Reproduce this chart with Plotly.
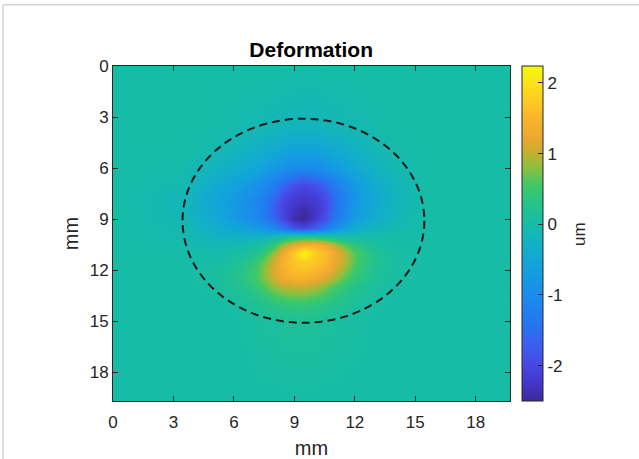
import plotly.graph_objects as go

# ---- data (deformation in um on a mm grid) ----
X_MM = [0, 3.5, 5, 6, 7, 7.5, 8, 8.5, 9, 9.5, 10, 10.5, 11, 11.5, 12, 13, 14, 15.5, 19.7]
Y_MM = [0, 3.5, 5, 6, 7, 7.5, 8, 8.5, 9, 9.5, 10, 10.5, 11, 11.5, 12, 12.5, 13, 14, 15, 19.7]

DEFORMATION_UM = [
    [0]*19,
    [0, 0, 0, -0.05, -0.1, -0.1, -0.15, -0.15, -0.2, -0.2, -0.2, -0.15, -0.15, -0.1, -0.1, -0.05, 0, 0, 0],
    [0, 0, -0.1, -0.2, -0.3, -0.4, -0.45, -0.55, -0.6, -0.6, -0.6, -0.55, -0.45, -0.4, -0.3, -0.15, -0.05, 0, 0],
    [0, -0.05, -0.25, -0.35, -0.5, -0.6, -0.75, -0.9, -1.0, -1.05, -1.0, -0.9, -0.75, -0.6, -0.45, -0.25, -0.1, 0, 0],
    [0, -0.1, -0.4, -0.6, -0.85, -1.05, -1.3, -1.6, -1.9, -2.0, -1.9, -1.65, -1.3, -1.0, -0.75, -0.4, -0.2, 0, 0],
    [0, -0.15, -0.5, -0.7, -0.95, -1.15, -1.5, -1.95, -2.1, -2.15, -2.1, -1.9, -1.45, -1.1, -0.8, -0.45, -0.2, 0, 0],
    [0, -0.15, -0.5, -0.75, -1.05, -1.3, -1.65, -2.05, -2.2, -2.25, -2.2, -2.0, -1.5, -1.15, -0.8, -0.45, -0.2, 0, 0],
    [0, -0.15, -0.5, -0.75, -1.05, -1.35, -1.75, -2.1, -2.3, -2.45, -2.25, -2.0, -1.45, -1.1, -0.75, -0.4, -0.2, 0, 0],
    [0, -0.15, -0.45, -0.7, -1.0, -1.25, -1.6, -2.05, -2.4, -2.5, -2.2, -1.9, -1.35, -1.0, -0.65, -0.35, -0.15, 0, 0],
    [0, -0.1, -0.35, -0.5, -0.7, -0.85, -1.1, -1.45, -1.85, -2.0, -1.75, -1.35, -0.95, -0.65, -0.4, -0.2, -0.1, 0, 0],
    [0, -0.1, -0.25, -0.3, -0.3, -0.25, -0.15, 0.0, 0.15, 0.2, 0.2, 0.1, 0.0, -0.05, -0.05, -0.05, 0, 0, 0],
    [0, -0.05, -0.1, -0.1, 0.0, 0.15, 0.45, 0.9, 1.25, 1.45, 1.45, 1.3, 0.95, 0.65, 0.4, 0.1, 0.0, 0, 0],
    [0, 0, -0.05, 0.0, 0.2, 0.45, 0.85, 1.35, 1.75, 2.2, 1.8, 1.6, 1.3, 0.95, 0.6, 0.2, 0.05, 0, 0],
    [0, 0, 0.0, 0.1, 0.4, 0.7, 1.1, 1.5, 1.7, 1.8, 1.7, 1.55, 1.25, 0.95, 0.6, 0.25, 0.05, 0, 0],
    [0, 0, 0.05, 0.2, 0.5, 0.8, 1.15, 1.45, 1.6, 1.65, 1.55, 1.4, 1.1, 0.8, 0.5, 0.2, 0.05, 0, 0],
    [0, 0, 0.05, 0.2, 0.5, 0.75, 1.05, 1.3, 1.4, 1.4, 1.3, 1.1, 0.85, 0.6, 0.4, 0.15, 0.05, 0, 0],
    [0, 0, 0.05, 0.15, 0.4, 0.6, 0.8, 0.95, 1.0, 1.0, 0.9, 0.75, 0.55, 0.4, 0.25, 0.1, 0, 0, 0],
    [0, 0, 0, 0.05, 0.15, 0.25, 0.35, 0.4, 0.45, 0.45, 0.4, 0.35, 0.25, 0.2, 0.1, 0.05, 0, 0, 0],
    [0, 0, 0, 0, 0.05, 0.1, 0.1, 0.15, 0.15, 0.15, 0.15, 0.1, 0.1, 0.05, 0.05, 0, 0, 0, 0],
    [0]*19,
]

TICKS_MM = [0, 3, 6, 9, 12, 15, 18]
CBAR_TICKS = [-2, -1, 0, 1, 2]
CBAR_TICKTEXT = ["-2", "-1", "0", "1", "2"]
Z_MIN, Z_MAX = -2.5, 2.24
AXIS_MAX_MM = 19.7
CIRCLE_CENTER_MM = (9.45, 9.1)
CIRCLE_RADIUS_MM = 6.0

# parula-like colour map, as it appears in the picture's colour bar
COLOR_STOPS = [
    (-2.50, "#3b2a98"), (-2.25, "#4336c8"), (-2.00, "#4747e4"), (-1.70, "#3a60f0"),
    (-1.40, "#2477f0"), (-1.00, "#1a8cec"), (-0.60, "#12a2dc"), (-0.30, "#12b0c6"),
    (0.00, "#16bca6"), (0.30, "#26c38a"), (0.55, "#3ec866"), (0.80, "#8cc040"),
    (1.00, "#c2b030"), (1.20, "#e8a830"), (1.50, "#f9b42c"), (1.80, "#fccf20"),
    (2.00, "#fae31a"), (2.24, "#f6f80e"),
]
COLORSCALE = [[(v - Z_MIN) / (Z_MAX - Z_MIN), c] for v, c in COLOR_STOPS]

FONT = "Liberation Sans, Arial, sans-serif"
AX_COLOR = "#262626"

fig = go.Figure()
fig.add_trace(go.Heatmap(
    x=X_MM, y=Y_MM, z=DEFORMATION_UM,
    zmin=Z_MIN, zmax=Z_MAX, zsmooth="best",
    colorscale=COLORSCALE,
    colorbar=dict(
        x=1.0295, xanchor="left", xpad=0,
        y=0.5, yanchor="middle", len=1, lenmode="fraction", ypad=0,
        thickness=21, outlinewidth=1, outlinecolor=AX_COLOR,
        tickvals=CBAR_TICKS, ticktext=CBAR_TICKTEXT,
        ticks="inside", ticklen=5, tickcolor=AX_COLOR,
        tickfont=dict(family=FONT, size=17, color=AX_COLOR),
    ),
    hoverinfo="skip",
))

cx, cy = CIRCLE_CENTER_MM
fig.add_shape(
    type="circle", xref="x", yref="y",
    x0=cx - CIRCLE_RADIUS_MM, x1=cx + CIRCLE_RADIUS_MM,
    y0=cy - CIRCLE_RADIUS_MM, y1=cy + CIRCLE_RADIUS_MM,
    line=dict(color="#1a1a1a", width=2, dash="8px,5px"), layer="above",
)

# light frame lines at top and left of the image
fig.add_shape(type="line", xref="paper", yref="paper", x0=-0.277, x1=1.33, y0=1.1827, y1=1.1827,
              line=dict(color="#d4d4d4", width=1.5))
fig.add_shape(type="line", xref="paper", yref="paper", x0=-0.277, x1=-0.277, y0=1.1827, y1=-0.2,
              line=dict(color="#d4d4d4", width=1.5))

# colour bar label
fig.add_annotation(text="um", xref="paper", yref="paper", x=1.175, y=0.5,
                   xanchor="center", yanchor="middle", showarrow=False, textangle=-90,
                   font=dict(family=FONT, size=17, color=AX_COLOR))

axis_common = dict(
    tickvals=TICKS_MM, ticks="inside", ticklen=5, tickcolor=AX_COLOR,
    showline=True, linecolor=AX_COLOR, linewidth=1, mirror="ticks",
    showgrid=False, zeroline=False, automargin=False,
    tickfont=dict(family=FONT, size=17, color=AX_COLOR),
)

fig.update_layout(
    width=639, height=459,
    margin=dict(l=113, r=129, t=66, b=58, autoexpand=False),
    paper_bgcolor="white", plot_bgcolor="white",
    title=dict(text="<b>Deformation</b>", x=0.487, xanchor="center",
               y=0.892, yanchor="middle", yref="container",
               font=dict(family=FONT, size=21, color="black")),
    xaxis=dict(range=[0, AXIS_MAX_MM], ticklabelstandoff=6,
               title=dict(text="mm", standoff=9,
                          font=dict(family=FONT, size=20, color=AX_COLOR)), **axis_common),
    yaxis=dict(range=[AXIS_MAX_MM, 0], title=dict(text="mm", standoff=5,
               font=dict(family=FONT, size=20, color=AX_COLOR)), **axis_common),
    showlegend=False,
)

fig.write_html("out.html", config={"displayModeBar": False},
               post_script="document.body.style.margin='0px';")
